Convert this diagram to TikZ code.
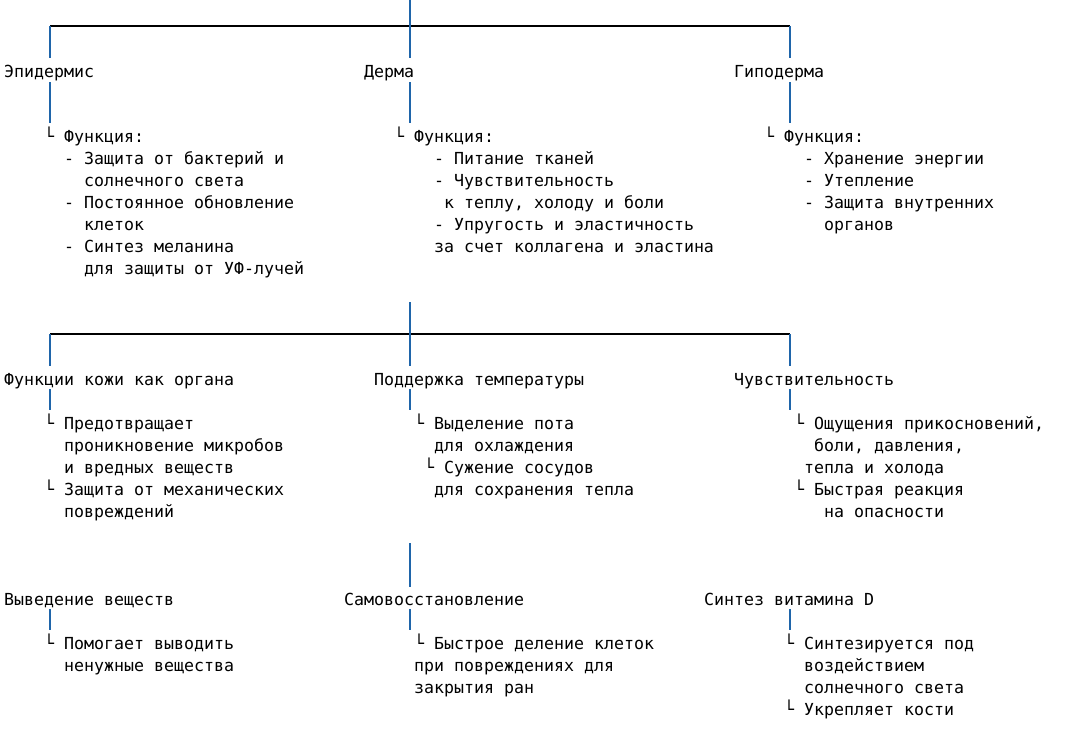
\documentclass[tikz,border=0pt]{standalone}
\usepackage{fontspec}
\setmonofont{DejaVu Sans Mono}
\usepackage{tikz}
\usetikzlibrary{calc}
\definecolor{treeblue}{RGB}{31,101,170}
\tikzset{
	heading/.style={anchor=base west, inner sep=0pt, font=\ttfamily\fontsize{16.6}{22}\selectfont},
	textblock/.style={heading, anchor=north west, align=left, execute at begin node={\rule{0pt}{17pt}}},
	bluestem/.style={draw=treeblue, line width=1.8pt},
	blackbar/.style={draw=black, line width=1.2pt}
}
\frenchspacing

\begin{document}
\begin{tikzpicture}[x=1pt,y=-1pt]
				\useasboundingbox (0,0) rectangle (1072,750);
				
				\coordinate (cL) at (50,0);
				\coordinate (cM) at (410,0);
				\coordinate (cR) at (790,0);
				\coordinate (top1) at (410,0);
				\coordinate (bar1) at (410,26);
				\coordinate (top2) at (410,302);
				\coordinate (bar2) at (410,334);
				\coordinate (top3) at (410,543);
				
				\node[heading] (epi) at (4,77) {Эпидермис};
				\node[heading] (derma) at (364,77) {Дерма};
				\node[heading] (hypo) at (734,77) {Гиподерма};
				
				\node[textblock] (epiF) at (44,127) {└ Функция:\\
					~~- Защита от бактерий и\\
					~~~~солнечного света\\
					~~- Постоянное обновление\\
					~~~~клеток\\
					~~- Синтез меланина\\
					~~~~для защиты от УФ-лучей};
				\node[textblock] (dermaF) at (394,127) {└ Функция:\\
					~~~~- Питание тканей\\
					~~~~- Чувствительность\\
					~~~~~к теплу, холоду и боли\\
					~~~~- Упругость и эластичность\\
					~~~~за счет коллагена и эластина};
				\node[textblock] (hypoF) at (764,127) {└ Функция:\\
					~~~~- Хранение энергии\\
					~~~~- Утепление\\
					~~~~- Защита внутренних\\
					~~~~~~органов};
				
				\node[heading] (organ) at (4,385) {Функции кожи как органа};
				\node[heading] (temp) at (374,385) {Поддержка температуры};
				\node[heading] (sens) at (734,385) {Чувствительность};
				
				\node[textblock] (organF) at (44,414) {└ Предотвращает\\
					~~проникновение микробов\\
					~~и вредных веществ\\
					└ Защита от механических\\
					~~повреждений};
				\node[textblock] (tempF) at (414,414) {└ Выделение пота\\
					~~для охлаждения\\
					~└ Сужение сосудов\\
					~~для сохранения тепла};
				\node[textblock] (sensF) at (794,414) {└ Ощущения прикосновений,\\
					~~боли, давления,\\
					~тепла и холода\\
					└ Быстрая реакция\\
					~~~на опасности};
				
				\node[heading] (excr) at (4,605) {Выведение веществ};
				\node[heading] (regen) at (344,605) {Самовосстановление};
				\node[heading] (vitd) at (704,605) {Синтез витамина D};
				
				\node[textblock] (excrF) at (44,634) {└ Помогает выводить\\
					~~ненужные вещества};
				\node[textblock] (regenF) at (414,634) {└ Быстрое деление клеток\\
					при повреждениях для\\
					закрытия ран};
				\node[textblock] (vitdF) at (784,634) {└ Синтезируется под\\
					~~воздействием\\
					~~солнечного света\\
					└ Укрепляет кости};
				
				\draw[blackbar] (bar1 -| cL) -- (bar1 -| cR);
				\draw[blackbar] (bar2 -| cL) -- (bar2 -| cR);
				
				\draw[bluestem] (top1) -- (bar1);
				\draw[bluestem] (bar1 -| cL) -- ($(epi.base -| cL)+(0,-19)$);
				\draw[bluestem] (bar1 -| cM) -- ($(derma.base -| cM)+(0,-19)$);
				\draw[bluestem] (bar1 -| cR) -- ($(hypo.base -| cR)+(0,-19)$);
				\draw[bluestem] ($(epi.base -| cL)+(0,5)$) -- ($(epiF.north -| cL)+(0,-4)$);
				\draw[bluestem] ($(derma.base -| cM)+(0,5)$) -- ($(dermaF.north -| cM)+(0,-4)$);
				\draw[bluestem] ($(hypo.base -| cR)+(0,5)$) -- ($(hypoF.north -| cR)+(0,-4)$);
				
				\draw[bluestem] (top2) -- (bar2);
				\draw[bluestem] (bar2 -| cL) -- ($(organ.base -| cL)+(0,-19)$);
				\draw[bluestem] (bar2 -| cM) -- ($(temp.base -| cM)+(0,-19)$);
				\draw[bluestem] (bar2 -| cR) -- ($(sens.base -| cR)+(0,-19)$);
				\draw[bluestem] ($(organ.base -| cL)+(0,4)$) -- ($(organF.north -| cL)+(0,-4)$);
				\draw[bluestem] ($(temp.base -| cM)+(0,4)$) -- ($(tempF.north -| cM)+(0,-4)$);
				\draw[bluestem] ($(sens.base -| cR)+(0,4)$) -- ($(sensF.north -| cR)+(0,-4)$);
				
				\draw[bluestem] (top3) -- ($(regen.base -| cM)+(0,-18)$);
				\draw[bluestem] ($(excr.base -| cL)+(0,4)$) -- ($(excrF.north -| cL)+(0,-4)$);
				\draw[bluestem] ($(regen.base -| cM)+(0,4)$) -- ($(regenF.north -| cM)+(0,-4)$);
				\draw[bluestem] ($(vitd.base -| cR)+(0,4)$) -- ($(vitdF.north -| cR)+(0,-4)$);
\end{tikzpicture}
\end{document}
